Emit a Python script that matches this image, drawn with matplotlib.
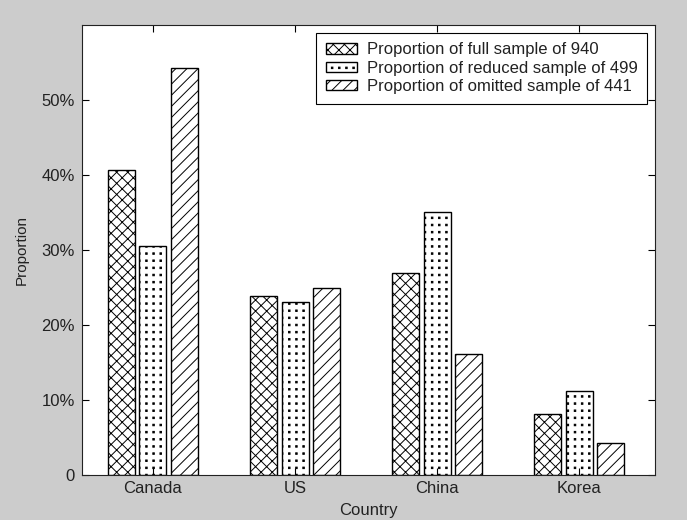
import matplotlib
matplotlib.use("Agg")
import matplotlib.pyplot as plt
import matplotlib.hatch as mhatch
from matplotlib.path import Path
import numpy as np

countries = ["Canada", "US", "China", "Korea"]
full_sample = [0.407, 0.239, 0.270, 0.082]
reduced_sample = [0.305, 0.231, 0.351, 0.112]
omitted_sample = [0.543, 0.249, 0.162, 0.043]
series_labels = ["Proportion of full sample of 940",
                 "Proportion of reduced sample of 499",
                 "Proportion of omitted sample of 441"]
ytick_vals = [0, 0.1, 0.2, 0.3, 0.4, 0.5]
ytick_labels = ["0", "10%", "20%", "30%", "40%", "50%"]


# MATLAB-like square dot grid hatch (non-staggered), replaces '.' hatch
class GridDots(mhatch.HatchPatternBase):
    def __init__(self, hatch, density):
        self.n = hatch.count('.') * 7
        self.num_vertices = self.n * self.n * 5

    def set_vertices_and_codes(self, vertices, codes):
        n = self.n
        h = 0.0075
        sq = np.array([[-h, -h], [h, -h], [h, h], [-h, h], [-h, -h]])
        sc = [Path.MOVETO, Path.LINETO, Path.LINETO, Path.LINETO, Path.CLOSEPOLY]
        k = 0
        for i in range(n):
            for j in range(n):
                c = np.array([(i + 0.5) / n, (j + 0.5) / n])
                vertices[k:k + 5] = sq + c
                codes[k:k + 5] = sc
                k += 5


for idx, cls in enumerate(mhatch._hatch_types):
    if cls is mhatch.SmallFilledCircles:
        mhatch._hatch_types[idx] = GridDots

plt.rcParams['font.family'] = ['Liberation Sans', 'DejaVu Sans']
plt.rcParams['hatch.linewidth'] = 0.7
plt.rcParams['hatch.color'] = 'black'

fig = plt.figure(figsize=(6.87, 5.2), dpi=100, facecolor='#cccccc')
ax = fig.add_axes([0.119, 0.0865, 0.834, 0.865])
ax.set_facecolor('white')

x = np.arange(1, len(countries) + 1)
w = 0.19
off = 0.222
hatches = ['xxx', '..', '///']
for i, (vals, h, lab) in enumerate(zip([full_sample, reduced_sample, omitted_sample], hatches, series_labels)):
    ax.bar(x + (i - 1) * off, vals, width=w, facecolor='white', edgecolor='black',
           hatch=h, linewidth=1.0, label=lab)

ax.set_xlim(0.5, 4.53)
ax.set_ylim(0, 0.6)
ax.set_xticks(x)
ax.set_xticklabels(countries, fontsize=12, color='#222222')
ax.set_yticks(ytick_vals)
ax.set_yticklabels(ytick_labels, fontsize=12, color='#222222')
ax.tick_params(axis='y', direction='in', right=True, length=5, width=0.8, pad=5)
ax.tick_params(axis='x', direction='in', top=True, length=5, width=0.8, pad=4.5)
for s in ax.spines.values():
    s.set_linewidth(0.8)
    s.set_color('#222222')
ax.set_xlabel("Country", fontsize=12, labelpad=5, color='#222222')
ax.set_ylabel("Proportion", fontsize=11, labelpad=9, color='#222222')

leg = ax.legend(loc='upper right', prop={'size': 12}, frameon=True, fancybox=False,
                edgecolor='black', framealpha=1, handlelength=1.85, handleheight=0.6,
                borderaxespad=0.45, labelspacing=0.2, borderpad=0.58, handletextpad=0.6)
leg.get_frame().set_linewidth(0.8)
for t in leg.get_texts():
    t.set_color('#222222')

fig.savefig("out.png", dpi=100, facecolor=fig.get_facecolor())
